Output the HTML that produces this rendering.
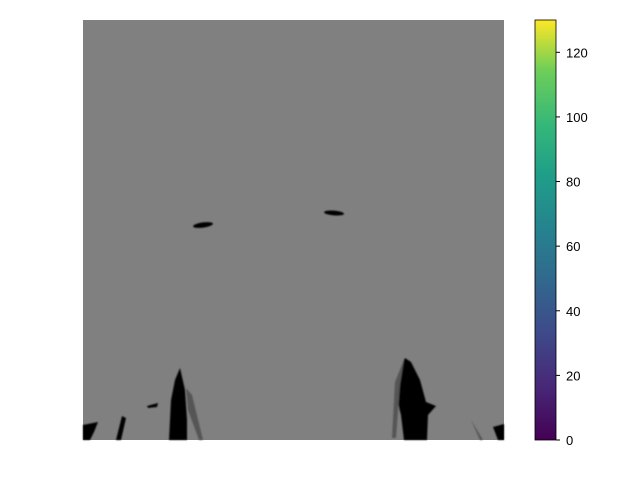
<!DOCTYPE html>
<html><head><meta charset="utf-8"><style>
body{margin:0;background:#fff;font-family:"Liberation Sans",sans-serif}
svg{display:block}
</style></head><body>
<svg width="640" height="480">
<defs><linearGradient id="vir" x1="0" y1="1" x2="0" y2="0">
<stop offset="0" stop-color="#440154"/><stop offset="0.13" stop-color="#482878"/><stop offset="0.25" stop-color="#3e4989"/><stop offset="0.38" stop-color="#31688e"/><stop offset="0.5" stop-color="#26828e"/><stop offset="0.63" stop-color="#1f9e89"/><stop offset="0.75" stop-color="#35b779"/><stop offset="0.88" stop-color="#6ece58"/><stop offset="1" stop-color="#fde725"/></linearGradient>
<filter id="bl"><feGaussianBlur stdDeviation="0.8"/></filter></defs>
<g>
<rect x="83" y="20" width="421" height="420" fill="#808080"/>
<g filter="url(#bl)" fill="#000">
<ellipse cx="203" cy="225" rx="10" ry="2.6" transform="rotate(-8 203 225)"/>
<ellipse cx="334" cy="213" rx="10" ry="2.4" transform="rotate(5 334 213)"/>
<path d="M180,368 L175,380 L171,400 L169,440 L187,440 L187,420 L185,390 Z"/>
<path d="M186,388 L192,395 L203,440 L199,440 L188,410 Z" fill="#555"/>
<path d="M405,358 L398,375 L396,395 L401,415 L404,440 L427,440 L428,415 L436,406 L426,402 L420,380 L411,362 Z"/>
<path d="M404,360 L395,382 L392,438 L396,438 L400,385 Z" fill="#555"/>
<path d="M83,425 L98,422 L94,432 L90,440 L83,440 Z"/>
<path d="M122,416 L126,418 L121,440 L116,440 Z"/>
<path d="M147,406 L158,403 L157,407 L148,408 Z"/>
<path d="M493,427 L504,424 L504,440 L498,440 Z"/>
<path d="M471,420 L483,440 L480,440 Z" fill="#555"/>
</g></g>
<g>
<rect x="535" y="20" width="21" height="420" fill="url(#vir)" stroke="#000" stroke-width="0.8"/>
<g id="cbt" font-size="13" fill="#000"></g>
</g>
</svg>
<script>
const tickValues=[0,20,40,60,80,100,120];
const vmin=0, vmax=130;
const g=document.getElementById('cbt');
const ns='http://www.w3.org/2000/svg';
function yScale(v){return 440-(v-vmin)/(vmax-vmin)*420;}
tickValues.forEach(v=>{
  const y=yScale(v);
  const l=document.createElementNS(ns,'line');
  
  
  l.setAttribute('x1',556);l.setAttribute('x2',560);l.setAttribute('y1',y);l.setAttribute('y2',y);l.setAttribute('stroke','#000');
  g.appendChild(l);
  const t=document.createElementNS(ns,'text');
  
  
  t.setAttribute('x',566);t.setAttribute('y',y+5);t.textContent=v;
  g.appendChild(t);
});
</script>
</body></html>
